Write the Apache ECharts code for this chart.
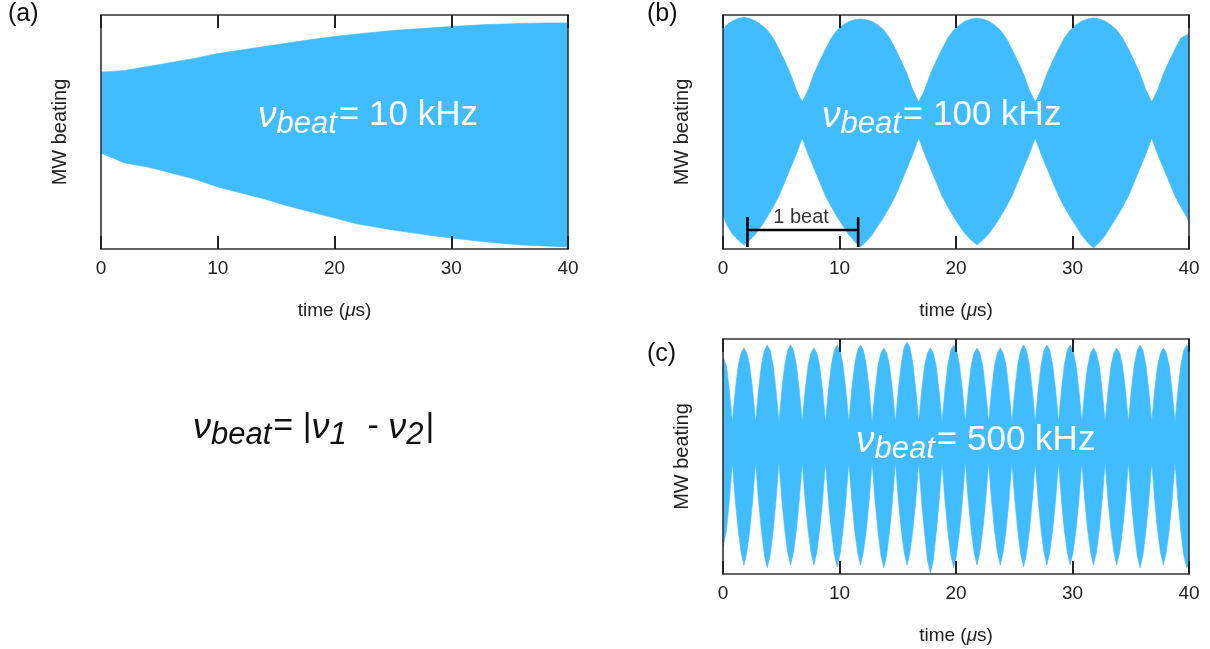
<!DOCTYPE html>
<html><head><meta charset="utf-8">
<script src="https://cdn.jsdelivr.net/npm/echarts@6/dist/echarts.min.js"></script>
<style>html,body{margin:0;padding:0;background:#fff}#c{width:1210px;height:649px}</style>
</head><body><div id="c"></div>
<script>
// ---------- data ----------
// time axis in microseconds; envelope values in % of plot height (0 = bottom, 100 = top)
const aT = [0,1,2,3,4,5,6,7,8,9,10,12,14,16,18,20,22,25,28,30,33,36,38,40];
const aUpper = [75.6,75.9,76.3,77.1,78.0,78.8,79.7,80.6,81.4,82.5,83.5,85.0,86.5,88.0,89.5,90.8,91.9,93.4,94.4,95.1,95.9,96.4,96.6,96.6];
const aLower = [41.0,38.9,36.8,35.9,35.0,33.8,32.5,31.2,29.9,28.2,26.5,23.9,21.4,18.4,15.8,13.2,10.7,8.1,6.0,4.7,3.0,1.7,1.3,0.9];

const bT = [0,0.3,0.8,1.3,1.8,2.3,2.8,3.3,3.8,4.3,4.8,5.3,5.8,6.3,6.8,7.3,7.8,8.3,8.8,9.3,9.8,10.3,10.8,11.3,11.8,12.3,12.8,13.3,13.8,14.3,14.8,15.3,15.8,16.3,16.8,17.3,17.8,18.3,18.8,19.3,19.8,20.3,20.8,21.3,21.8,22.3,22.8,23.3,23.8,24.3,24.8,25.3,25.8,26.3,26.8,27.3,27.8,28.3,28.8,29.3,29.8,30.3,30.8,31.3,31.8,32.3,32.8,33.3,33.8,34.3,34.8,35.3,35.8,36.3,36.8,37.3,37.8,38.3,38.8,39.3,39.8,40];
const bUpper = [93.6,95.7,97.4,98.5,99.1,98.5,97.4,95.7,93.6,90.2,85.5,80.3,74.8,67.9,62.8,
  67.9,74.8,80.3,85.5,90.2,93.6,95.7,97.2,98.0,98.3,98.0,97.2,95.7,93.6,90.2,85.5,80.3,74.8,67.9,62.8,
  67.9,74.8,80.3,85.5,90.2,93.6,95.7,97.4,98.3,98.7,98.3,97.4,95.7,93.6,90.2,85.5,80.3,74.8,67.9,62.8,
  67.9,74.8,80.3,85.5,90.2,93.6,95.7,97.4,98.3,98.7,98.3,97.4,95.7,93.6,90.2,85.5,80.3,74.8,67.9,62.8,
  67.9,74.8,80.3,85.5,90.2,91.5,92.3];
const bLower = [14.5,10.5,6.4,3.8,1.7,3.8,6.4,9.8,13.7,17.9,22.6,28.6,34.6,40.6,47.4,
  40.6,34.6,28.6,22.6,17.9,13.7,9.8,6.0,3.2,0.9,3.2,6.0,9.8,13.7,17.9,22.6,28.6,34.6,40.6,47.4,
  40.6,34.6,28.6,22.6,17.9,13.7,9.8,6.4,3.8,1.7,3.8,6.4,9.8,13.7,17.9,22.6,28.6,34.6,40.6,47.4,
  40.6,34.6,28.6,22.6,17.9,13.7,9.8,5.8,2.8,0.4,2.8,5.8,9.8,13.7,17.9,22.6,28.6,34.6,40.6,47.4,
  40.6,34.6,28.6,22.6,17.9,13.7,11.1];

const cT = [0,0.3,0.55,0.8,
  1.05,1.3,1.55,1.8,2.05,2.3,2.55,2.8, 3.05,3.3,3.55,3.8,4.05,4.3,4.55,4.8,
  5.05,5.3,5.55,5.8,6.05,6.3,6.55,6.8, 7.05,7.3,7.55,7.8,8.05,8.3,8.55,8.8,
  9.05,9.3,9.55,9.8,10.05,10.3,10.55,10.8, 11.05,11.3,11.55,11.8,12.05,12.3,12.55,12.8,
  13.05,13.3,13.55,13.8,14.05,14.3,14.55,14.8, 15.05,15.3,15.55,15.8,16.05,16.3,16.55,16.8,
  17.05,17.3,17.55,17.8,18.05,18.3,18.55,18.8, 19.05,19.3,19.55,19.8,20.05,20.3,20.55,20.8,
  21.05,21.3,21.55,21.8,22.05,22.3,22.55,22.8, 23.05,23.3,23.55,23.8,24.05,24.3,24.55,24.8,
  25.05,25.3,25.55,25.8,26.05,26.3,26.55,26.8, 27.05,27.3,27.55,27.8,28.05,28.3,28.55,28.8,
  29.05,29.3,29.55,29.8,30.05,30.3,30.55,30.8, 31.05,31.3,31.55,31.8,32.05,32.3,32.55,32.8,
  33.05,33.3,33.55,33.8,34.05,34.3,34.55,34.8, 35.05,35.3,35.55,35.8,36.05,36.3,36.55,36.8,
  37.05,37.3,37.55,37.8,38.05,38.3,38.55,38.8, 39.05,39.3,39.55,39.8,40];
const cUpper = [92.3,88.5,78.0,64.7,
  78.0,88.5,94.0,96.2,94.0,88.5,78.0,64.7, 78.3,88.9,95.2,97.4,95.2,88.9,78.3,64.7,
  78.3,88.9,95.2,97.4,95.2,88.9,78.3,64.7, 78.0,88.5,94.0,96.2,94.0,88.5,78.0,64.7,
  78.3,88.9,95.2,97.4,95.2,88.9,78.3,64.7, 78.3,88.9,95.2,97.4,95.2,88.9,78.3,64.7,
  78.0,88.5,94.0,96.2,94.0,88.5,78.0,64.7, 78.6,89.4,96.5,98.7,96.5,89.4,78.6,64.7,
  78.0,88.5,94.0,96.2,94.0,88.5,78.0,64.7, 78.3,88.9,95.2,97.4,95.2,88.9,78.3,64.7,
  78.0,88.5,94.0,96.2,94.0,88.5,78.0,64.7, 78.0,88.5,94.0,96.2,94.0,88.5,78.0,64.7,
  78.3,88.9,95.2,97.4,95.2,88.9,78.3,64.7, 78.3,88.9,95.2,97.4,95.2,88.9,78.3,64.7,
  78.3,88.9,95.2,97.4,95.2,88.9,78.3,64.7, 78.0,88.5,94.0,96.2,94.0,88.5,78.0,64.7,
  78.0,88.5,94.0,96.2,94.0,88.5,78.0,64.7, 78.3,88.9,95.2,97.4,95.2,88.9,78.3,64.7,
  78.0,88.5,94.0,96.2,94.0,88.5,78.0,64.7, 78.3,88.9,95.2,97.4,96.5];
const cLower = [11.1,18.7,31.5,47.7,
  31.5,18.7,9.3,3.8,9.3,18.7,31.5,47.7, 31.2,18.3,8.1,2.6,8.1,18.3,31.2,47.7,
  31.5,18.7,9.3,3.8,9.3,18.7,31.5,47.7, 31.5,18.7,9.3,3.8,9.3,18.7,31.5,47.7,
  31.3,18.5,8.5,3.0,8.5,18.5,31.3,47.7, 31.5,18.7,9.3,3.8,9.3,18.7,31.5,47.7,
  31.2,18.3,8.1,2.6,8.1,18.3,31.2,47.7, 31.5,18.7,9.3,3.8,9.3,18.7,31.5,47.7,
  30.8,17.5,5.9,0.4,5.9,17.5,30.8,47.7, 31.2,18.3,8.1,2.6,8.1,18.3,31.2,47.7,
  31.5,18.7,9.3,3.8,9.3,18.7,31.5,47.7, 31.5,18.7,9.3,3.8,9.3,18.7,31.5,47.7,
  31.3,18.5,8.5,3.0,8.5,18.5,31.3,47.7, 31.5,18.7,9.3,3.8,9.3,18.7,31.5,47.7,
  31.5,18.7,9.3,3.8,9.3,18.7,31.5,47.7, 31.5,18.7,9.3,3.8,9.3,18.7,31.5,47.7,
  31.5,18.7,9.3,3.8,9.3,18.7,31.5,47.7, 31.2,18.3,8.1,2.6,8.1,18.3,31.2,47.7,
  31.5,18.7,9.3,3.8,9.3,18.7,31.5,47.7, 31.2,18.3,8.1,2.6,4.0];

// "1 beat" bracket in panel (b)
const beatBarT = [2.1, 11.6];
const beatCapV = [0.9, 13.7];
const beatBarV = 8.1;
const beatLabelPos = [6.7, 13.4];

const panelLabels = ['(a)', '(b)', '(c)'];
const beatTexts = ['10 kHz', '100 kHz', '500 kHz'];

// ---------- chart ----------
const BLUE = '#40bcff';
const FONT = '"Liberation Sans", Arial, Helvetica, sans-serif';
const AX = 19;
const grids = [
  {left:101, top:15, width:467, height:234},
  {left:723, top:15, width:466, height:234},
  {left:723, top:339, width:466, height:235}
];
const xAxes = [], yAxes = [];
grids.forEach((g, i) => {
  const tick = {show:true, inside:true, length:13, lineStyle:{color:'#222', width:2}};
  const line = {show:true, onZero:false, lineStyle:{color:'#333', width:1.6}};
  xAxes.push({gridIndex:i, type:'value', position:'bottom', min:0, max:40, interval:10,
    axisLine:line, axisTick:tick, splitLine:{show:false},
    axisLabel:{show:true, fontSize:AX, color:'#222', margin:10, fontFamily:FONT},
    name:'time ({i|μ}s)', nameLocation:'middle', nameGap:52,
    nameTextStyle:{fontSize:AX, color:'#222', fontFamily:FONT,
      rich:{i:{fontStyle:'italic', fontSize:AX, color:'#222', fontFamily:FONT}}}, z:5});
  xAxes.push({gridIndex:i, type:'value', position:'top', min:0, max:40, interval:10,
    axisLine:line, axisTick:tick, splitLine:{show:false}, axisLabel:{show:false}, z:5});
  yAxes.push({gridIndex:i, type:'value', position:'left', min:0, max:100,
    axisLine:line, axisTick:{show:false}, axisLabel:{show:false}, splitLine:{show:false},
    name:'MW beating', nameLocation:'middle', nameGap:31,
    nameTextStyle:{fontSize:20, color:'#222', fontFamily:FONT}, z:5});
  yAxes.push({gridIndex:i, type:'value', position:'right', min:0, max:100,
    axisLine:line, axisTick:{show:false}, axisLabel:{show:false}, splitLine:{show:false}, z:5});
});

// filled envelope band drawn as one polygon through the axis scales
function band(t, up, lo, gi) {
  return {type:'custom', xAxisIndex:2*gi, yAxisIndex:2*gi, silent:true, animation:false, clip:true, z:2,
    data:t.map((x, k) => [x, up[k], lo[k]]),
    encode:{x:0, y:[1, 2]},
    renderItem:function (params, api) {
      if (params.dataIndex !== 0) return null;
      const pts = [];
      for (let k = 0; k < t.length; k++) pts.push(api.coord([t[k], up[k]]));
      for (let k = t.length - 1; k >= 0; k--) pts.push(api.coord([t[k], lo[k]]));
      return {type:'polygon', shape:{points:pts},
        style:{fill:BLUE, stroke:BLUE, lineWidth:0.6}};
    }};
}

const series = [band(aT, aUpper, aLower, 0), band(bT, bUpper, bLower, 1), band(cT, cUpper, cLower, 2)];
series.push({type:'line', xAxisIndex:2, yAxisIndex:2, symbol:'none', silent:true, animation:false, z:10,
  lineStyle:{color:'#000', width:2.6},
  data:[[beatBarT[0], beatCapV[0]], [beatBarT[0], beatCapV[1]], [beatBarT[0], beatBarV],
        [beatBarT[1], beatBarV], [beatBarT[1], beatCapV[1]], [beatBarT[1], beatCapV[0]]]});
series.push({type:'scatter', xAxisIndex:2, yAxisIndex:2, symbolSize:0, silent:true, animation:false, z:10,
  data:[beatLabelPos],
  label:{show:true, position:'inside', formatter:'1 beat', fontSize:20, color:'#000',
    textBorderWidth:0, fontFamily:FONT}});

function nuText(x, y, rest, color) {
  return {type:'text', x:x, y:y, z:100, silent:true,
    style:{text:'{nu|ν}{sub|beat}{eq|= ' + rest + '}', fill:color,
      rich:{
        nu:{fontFamily:FONT, fontSize:37, fontStyle:'italic', fill:color, verticalAlign:'top'},
        sub:{fontFamily:FONT, fontSize:31, fontStyle:'italic', fill:color, verticalAlign:'top', padding:[11,2,0,0]},
        eq:{fontFamily:FONT, fontSize:35, fill:color, verticalAlign:'top'}
      }}};
}

const graphic = [
  {type:'text', x:8, y:2, z:100, style:{text:panelLabels[0], fontFamily:FONT, fontSize:25, fill:'#111'}},
  {type:'text', x:647, y:2, z:100, style:{text:panelLabels[1], fontFamily:FONT, fontSize:25, fill:'#111'}},
  {type:'text', x:647, y:342, z:100, style:{text:panelLabels[2], fontFamily:FONT, fontSize:25, fill:'#111'}},
  nuText(258, 98, beatTexts[0], '#fff'),
  nuText(822, 98, beatTexts[1], '#fff'),
  nuText(856, 423, beatTexts[2], '#fff'),
  {type:'text', x:193, y:410, z:100, silent:true,
    style:{text:'{nu|ν}{sub|beat}{eq|= |}{nu|ν}{sub|1}{eq|  - }{nu|ν}{sub|2}{eq||}', fill:'#111',
      rich:{
        nu:{fontFamily:FONT, fontSize:36, fontStyle:'italic', fill:'#111', verticalAlign:'top'},
        sub:{fontFamily:FONT, fontSize:31, fontStyle:'italic', fill:'#111', verticalAlign:'top', padding:[10,2,0,0]},
        eq:{fontFamily:FONT, fontSize:34, fill:'#111', verticalAlign:'top'}
      }}}
];

const chart = echarts.init(document.getElementById('c'), null, {renderer:'canvas'});
chart.setOption({
  animation:false,
  backgroundColor:'#fff',
  textStyle:{fontFamily:FONT},
  grid:grids,
  xAxis:xAxes,
  yAxis:yAxes,
  series:series,
  graphic:graphic
});
</script></body></html>
